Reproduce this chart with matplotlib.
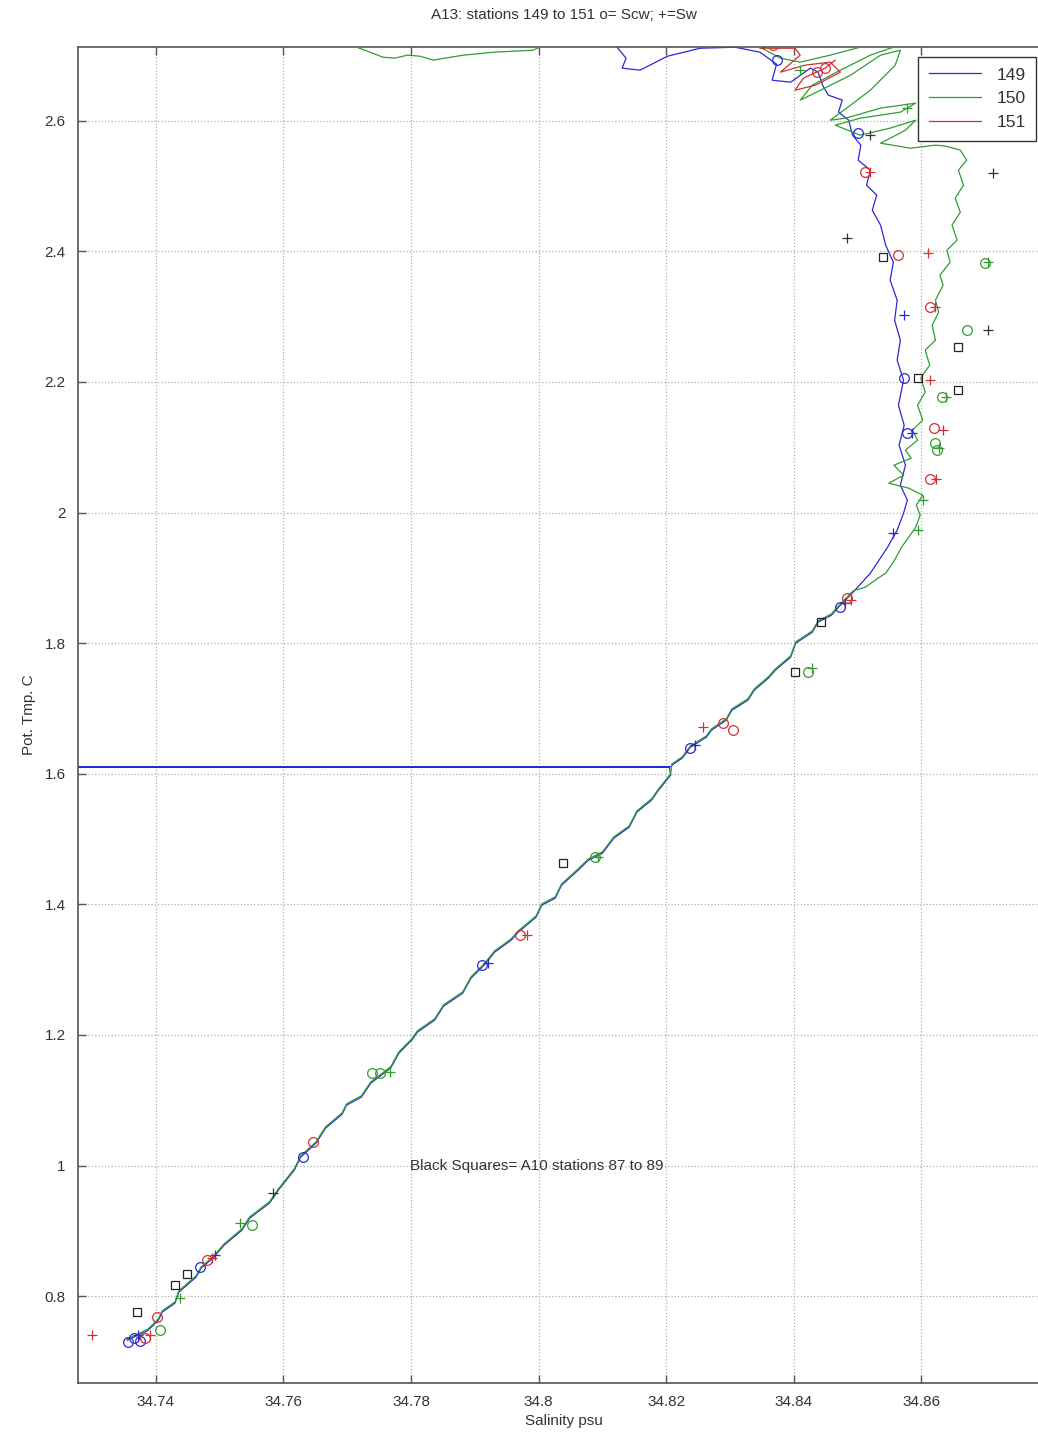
import numpy as np
import matplotlib.pyplot as plt

plt.rcParams['font.family'] = ['Liberation Sans', 'DejaVu Sans']

# ---- profile lines (salinity, pot. temperature) ----
# common deep part shared by the stations
low_S = [34.7355, 34.7375, 34.7391, 34.7402, 34.7414, 34.7427, 34.7438, 34.7458, 34.7474, 34.7489,
         34.7511, 34.7532, 34.7552, 34.7574, 34.7595, 34.7615, 34.7631, 34.7646, 34.7668, 34.7689,
         34.7704, 34.7720, 34.7740, 34.7762, 34.7783, 34.7798, 34.7814, 34.7835, 34.7856, 34.7877,
         34.7896, 34.7913, 34.7935, 34.7955, 34.7971, 34.7991, 34.8007, 34.8023, 34.8042, 34.8060,
         34.8081, 34.8096, 34.8120, 34.8139, 34.8159, 34.8175, 34.8191, 34.8202, 34.8211, 34.8222,
         34.8242, 34.8261, 34.8274, 34.8289, 34.8305, 34.8324, 34.8343, 34.8358, 34.8374, 34.8390,
         34.8405, 34.8426, 34.8442, 34.8457, 34.8473, 34.8493]
low_T = [0.7326, 0.7433, 0.7479, 0.7632, 0.7755, 0.7893, 0.8061, 0.8291, 0.8429, 0.8597,
         0.8781, 0.9011, 0.9194, 0.9424, 0.9623, 0.9930, 1.0129, 1.0343, 1.0573, 1.0787,
         1.0925, 1.1047, 1.1262, 1.1492, 1.1721, 1.1920, 1.2043, 1.2227, 1.2441, 1.2640,
         1.2870, 1.3084, 1.3268, 1.3452, 1.3574, 1.3804, 1.3988, 1.4095, 1.4294, 1.4524,
         1.4677, 1.4784, 1.5014, 1.5182, 1.5412, 1.5596, 1.5749, 1.5979, 1.6132, 1.6239,
         1.6407, 1.6561, 1.6668, 1.6821, 1.6974, 1.7127, 1.7280, 1.7464, 1.7586, 1.7785,
         1.8000, 1.8168, 1.8322, 1.8429, 1.8551, 1.8781]
# small wiggles in salinity (units of 0.0001 psu)
low_dS = [0, 4, -3, 2, -4, 3, -2, 5, -3, 2, -4, 3, -5, 4, -3, 2, -4, 5, -2, 3,
          -5, 2, -3, 6, -2, 3, -4, 2, -5, 4, -2, 3, -4, 2, -3, 5, -2, 3, -6, 2,
          -3, 4, -2, 3, -5, 2, -3, 5, -2, 3, -4, 2, -3, 5, -2, 4, -5, 2, -3, 5,
          -2, 3, -4, 2, -3, 0]

s149_up_S = [34.8520, 34.8547, 34.8562, 34.8572, 34.8578, 34.8567, 34.8575, 34.8565, 34.8573, 34.8564,
             34.8572, 34.8562, 34.8567, 34.8558, 34.8562, 34.8551, 34.8556, 34.8544, 34.8536, 34.8523,
             34.8530, 34.8514, 34.8520, 34.8501, 34.8505, 34.8492, 34.8486, 34.8470, 34.8476, 34.8454,
             34.8445, 34.8438, 34.8426, 34.8395, 34.8366, 34.8373, 34.8347, 34.8308, 34.8253, 34.8202,
             34.8159, 34.8131, 34.8137, 34.8123, 34.8115]
s149_up_T = [1.9072, 1.9470, 1.9730, 1.9991, 2.0190, 2.0420, 2.0726, 2.1032, 2.1338, 2.1644,
             2.2028, 2.2334, 2.2640, 2.2946, 2.3253, 2.3559, 2.3835, 2.4095, 2.4401, 2.4631,
             2.4861, 2.5014, 2.5244, 2.5397, 2.5627, 2.5781, 2.6010, 2.6133, 2.6317, 2.6393,
             2.6547, 2.6745, 2.6807, 2.6591, 2.6622, 2.6867, 2.7050, 2.7127, 2.7111, 2.6989,
             2.6775, 2.6806, 2.6959, 2.7127, 2.7311]
bad_S, bad_T = 34.60, 1.610      # spike in station 149

s150_up_S = [34.8512, 34.8532, 34.8544, 34.8556, 34.8569, 34.8580, 34.8591, 34.8598, 34.8592, 34.8602,
             34.8580, 34.8549, 34.8572, 34.8557, 34.8584, 34.8575, 34.8594, 34.8586, 34.8602, 34.8594,
             34.8606, 34.8599, 34.8613, 34.8606, 34.8622, 34.8617, 34.8627, 34.8622, 34.8634, 34.8629,
             34.8645, 34.8640, 34.8656, 34.8648, 34.8661, 34.8653, 34.8666, 34.8658, 34.8671, 34.8661,
             34.8638, 34.8622, 34.8583, 34.8536, 34.8575, 34.8591, 34.8551, 34.8504, 34.8465, 34.8504,
             34.8567, 34.8591, 34.8536, 34.8481, 34.8457, 34.8489, 34.8520, 34.8559, 34.8567, 34.8536,
             34.8489, 34.8442, 34.8410, 34.8429, 34.8473, 34.8520, 34.8556, 34.8504, 34.8457, 34.8410,
             34.8379, 34.8347, 34.8316, 34.8253, 34.8034, 34.8002, 34.7991, 34.7929, 34.7882, 34.7853,
             34.7835, 34.7814, 34.7794, 34.7775, 34.7756, 34.7736, 34.7715, 34.7689]
s150_up_T = [1.8857, 1.8995, 1.9072, 1.9240, 1.9470, 1.9623, 1.9776, 1.9960, 2.0113, 2.0267,
             2.0374, 2.0450, 2.0573, 2.0726, 2.0833, 2.0956, 2.1109, 2.1262, 2.1415, 2.1645,
             2.1844, 2.2059, 2.2258, 2.2487, 2.2640, 2.2870, 2.3069, 2.3253, 2.3482, 2.3636,
             2.3835, 2.4018, 2.4172, 2.4401, 2.4601, 2.4815, 2.5014, 2.5244, 2.5397, 2.5551,
             2.5612, 2.5627, 2.5580, 2.5657, 2.5856, 2.6009, 2.5887, 2.5780, 2.5933, 2.6040,
             2.6132, 2.6270, 2.6194, 2.6040, 2.6009, 2.6239, 2.6469, 2.6852, 2.7081, 2.7005,
             2.6699, 2.6469, 2.6316, 2.6546, 2.6775, 2.7005, 2.7127, 2.7127, 2.7005, 2.6898,
             2.6959, 2.7127, 2.7234, 2.7311, 2.7311, 2.7127, 2.7081, 2.7050, 2.7005, 2.6959,
             2.6928, 2.6989, 2.7005, 2.6959, 2.6974, 2.7050, 2.7127, 2.7234]

s151_S = [34.8347, 34.8402, 34.8410, 34.8379, 34.8418, 34.8457, 34.8473, 34.8434, 34.8402, 34.8415,
          34.8449, 34.8465]
s151_T = [2.7111, 2.7111, 2.7005, 2.6745, 2.6852, 2.6898, 2.6745, 2.6546, 2.6469, 2.6653,
          2.6806, 2.6928]

# ---- bottle data: o = Scw, + = Sw ----
cw149_S = [34.7356, 34.7365, 34.7375, 34.7469, 34.7631, 34.7911, 34.8238, 34.8473, 34.8572, 34.8578, 34.8501, 34.8374]
cw149_T = [0.7296, 0.7357, 0.7311, 0.8444, 1.0129, 1.3069, 1.6392, 1.8551, 2.2059, 2.1216, 2.5810, 2.6928]
w149_S = [34.7372, 34.7493, 34.7921, 34.8245, 34.8481, 34.8572, 34.8586, 34.8556]
w149_T = [0.7403, 0.8628, 1.3100, 1.6438, 1.8612, 2.3023, 2.1216, 1.9685]

cw150_S = [34.7406, 34.7551, 34.7739, 34.7751, 34.8089, 34.8423, 34.8633, 34.8622, 34.8625, 34.8672, 34.8700]
cw150_T = [0.7479, 0.9087, 1.1415, 1.1415, 1.4723, 1.7556, 2.1767, 2.1062, 2.0956, 2.2793, 2.3819]
w150_S = [34.7438, 34.7532, 34.7767, 34.8093, 34.8429, 34.8638, 34.8627, 34.8602, 34.8595, 34.8705, 34.8410, 34.8578]
w150_T = [0.7969, 0.9118, 1.1430, 1.4723, 1.7617, 2.1767, 2.0986, 2.0190, 1.9730, 2.3835, 2.6775, 2.6194]

cw151_S = [34.7402, 34.7383, 34.7480, 34.7646, 34.7971, 34.8289, 34.8304, 34.8484, 34.8614, 34.8619,
           34.8614, 34.8564, 34.8512, 34.8437, 34.8449, 34.8368]
cw151_T = [0.7678, 0.7357, 0.8551, 1.0358, 1.3528, 1.6775, 1.6668, 1.8689, 2.0512, 2.1292,
           2.3145, 2.3942, 2.5213, 2.6745, 2.6806, 2.7158]
w151_S = [34.7300, 34.7391, 34.7488, 34.7982, 34.8258, 34.8489, 34.8623, 34.8634, 34.8614, 34.8622, 34.8611, 34.8520]
w151_T = [0.7403, 0.7403, 0.8582, 1.3528, 1.6714, 1.8658, 2.0512, 2.1262, 2.2028, 2.3145, 2.3972, 2.5213]

dark_plus_S = [34.7584, 34.8484, 34.8704, 34.8713, 34.8520, 34.8352]
dark_plus_T = [0.9577, 2.4203, 2.2793, 2.5198, 2.5781, 2.7188]

# A10 stations 87 to 89
a10_S = [34.7370, 34.7430, 34.7449, 34.8038, 34.8402, 34.8442, 34.8540, 34.8594, 34.8658, 34.8658]
a10_T = [0.7755, 0.8168, 0.8337, 1.4631, 1.7556, 1.8322, 2.3911, 2.2059, 2.2533, 2.1875]

blue = '#2a2ad2'
green = '#2f9e2f'
red = '#d43030'
txt = '#333333'

low_S = np.array(low_S) + np.array(low_dS) * 0.0001
low_T = np.array(low_T)

# station 149 has the spike at 1.61 inside its deep part
i = np.searchsorted(low_T, bad_T)
p149_S = np.concatenate([low_S[:i], [34.8205, bad_S, 34.8208], low_S[i:], s149_up_S])
p149_T = np.concatenate([low_T[:i], [bad_T, bad_T, bad_T + 0.001], low_T[i:], s149_up_T])
p150_S = np.concatenate([low_S, s150_up_S])
p150_T = np.concatenate([low_T + 0.002, s150_up_T])

fig = plt.figure(figsize=(10.38, 14.45), dpi=100)
ax = fig.add_axes([78 / 1038, 62 / 1445, 971 / 1038, 1336 / 1445])

ax.plot(p149_S, p149_T, color=blue, lw=0.9, label='149', zorder=2)
ax.plot(p150_S, p150_T, color=green, lw=0.9, label='150', zorder=3)
ax.plot(s151_S, s151_T, color=red, lw=0.9, label='151', zorder=3)

ms = 7
ax.plot(cw149_S, cw149_T, 'o', mfc='none', mec=blue, ms=ms, mew=0.9, zorder=4)
ax.plot(w149_S, w149_T, '+', color=blue, ms=ms, mew=0.9, zorder=4)
ax.plot(cw150_S, cw150_T, 'o', mfc='none', mec=green, ms=ms, mew=0.9, zorder=4)
ax.plot(w150_S, w150_T, '+', color=green, ms=ms, mew=0.9, zorder=4)
ax.plot(cw151_S, cw151_T, 'o', mfc='none', mec=red, ms=ms, mew=0.9, zorder=4)
ax.plot(w151_S, w151_T, '+', color=red, ms=ms, mew=0.9, zorder=4)
ax.plot(dark_plus_S, dark_plus_T, '+', color='#333333', ms=ms, mew=0.9, zorder=4)
ax.plot(a10_S, a10_T, 's', mfc='none', mec='#222222', ms=6, mew=0.9, zorder=4)

ax.set_xlim(34.7278, 34.88)
ax.set_ylim(0.667, 2.713)
ax.set_xticks([34.74, 34.76, 34.78, 34.80, 34.82, 34.84, 34.86])
ax.set_xticklabels(['34.74', '34.76', '34.78', '34.8', '34.82', '34.84', '34.86'])
ax.set_yticks([0.8, 1.0, 1.2, 1.4, 1.6, 1.8, 2.0, 2.2, 2.4, 2.6])
ax.set_yticklabels(['0.8', '1', '1.2', '1.4', '1.6', '1.8', '2', '2.2', '2.4', '2.6'])
ax.grid(True, linestyle=':', color='#b0b0b0', lw=0.9)
ax.tick_params(direction='in', length=6, width=1, top=True, right=True,
               labelsize=11, colors='#555555', labelcolor=txt, pad=9)
for sp in ax.spines.values():
    sp.set_color('#555555')
    sp.set_linewidth(1.2)

ax.set_xlabel('Salinity psu', fontsize=11, color=txt, labelpad=3)
ax.set_ylabel('Pot. Tmp. C', fontsize=11, color=txt, labelpad=6)
ax.set_title('A13: stations 149 to 151 o= Scw; +=Sw', fontsize=11, color=txt, pad=20)
ax.text(34.7798, 1.0, 'Black Squares= A10 stations 87 to 89', fontsize=11, color=txt,
        ha='left', va='center')

leg = ax.legend(loc='upper right', bbox_to_anchor=(1036 / 1038, 1 - 57 / 1445),
                bbox_transform=fig.transFigure, fontsize=12.5, fancybox=False,
                framealpha=1, edgecolor='#333333', handlelength=3.0,
                borderpad=0.6, labelspacing=0.5, handletextpad=0.9, borderaxespad=0)
leg.get_frame().set_linewidth(1.0)
for t in leg.get_texts():
    t.set_color(txt)

fig.savefig('out.png', dpi=100)
